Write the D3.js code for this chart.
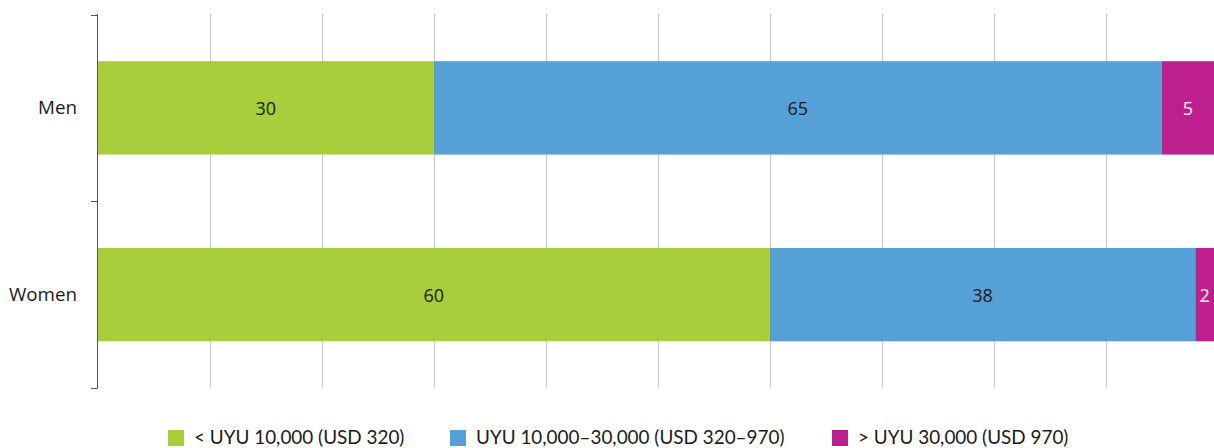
<!DOCTYPE html>
<html>
<head>
<meta charset="utf-8">
<script src="https://cdn.jsdelivr.net/npm/d3@7/dist/d3.min.js"></script>
<style>
  html, body { margin: 0; padding: 0; background: #fff; }
  svg { display: block; }
</style>
</head>
<body>
<script>
// Monthly income distribution by sex (%)
const categories = ["Men", "Women"];
const seriesNames = ["< UYU 10,000 (USD 320)", "UYU 10,000\u201330,000 (USD 320\u2013970)", "> UYU 30,000 (USD 970)"];
const lowIncome = [30, 60];
const midIncome = [65, 38];
const highIncome = [5, 2];
const xTicks = [10, 20, 30, 40, 50, 60, 70, 80, 90, 100];

const colors = ["#a8ce3b", "#55a0d6", "#bd208e"];
const labelColors = ["#1a1a1a", "#1a1a1a", "#ffffff"];

const W = 1214, H = 448;
const svg = d3.select("body").append("svg").attr("width", W).attr("height", H);

const x = d3.scaleLinear().domain([0, 100]).range([97.7, 1217.7]);
const y = d3.scaleBand().domain(categories).range([14.5, 388]).paddingInner(0.5).paddingOuter(0.25);

// gridlines
svg.append("g").selectAll("line").data(xTicks).join("line")
  .attr("x1", d => Math.round(x(d)) + 0.5).attr("x2", d => Math.round(x(d)) + 0.5)
  .attr("y1", 14).attr("y2", 388)
  .attr("stroke", "#c8c8c8").attr("stroke-width", 1);

// stacked rows
const rows = categories.map((c, i) => ({ cat: c, vals: [lowIncome[i], midIncome[i], highIncome[i]] }));
const stack = d3.stack().keys([0, 1, 2]).value((d, k) => d.vals[k]);
const layers = stack(rows);

const g = svg.append("g");
layers.forEach((layer, k) => {
  g.selectAll(null).data(layer).join("rect")
    .attr("x", d => x(d[0]))
    .attr("width", d => x(d[1]) - x(d[0]))
    .attr("y", d => y(d.data.cat))
    .attr("height", y.bandwidth())
    .attr("fill", colors[k]);
  g.selectAll(null).data(layer).join("text")
    .attr("x", d => (x(d[0]) + Math.min(x(d[1]), W)) / 2)
    .attr("y", d => y(d.data.cat) + y.bandwidth() / 2 + 1)
    .attr("dy", "0.35em")
    .attr("text-anchor", "middle")
    .attr("font-family", "'Open Sans', sans-serif")
    .attr("font-size", 18)
    .attr("fill", labelColors[k])
    .text(d => d[1] - d[0]);
});

// vertical category axis
const yAxisScale = d3.scalePoint().domain(["a", "b", "c"]).range([14.5, 388]);
svg.append("line")
  .attr("x1", 97.5).attr("x2", 97.5).attr("y1", 14).attr("y2", 388.5)
  .attr("stroke", "#555").attr("stroke-width", 1);
svg.append("g").selectAll("line").data(yAxisScale.domain()).join("line")
  .attr("x1", 91).attr("x2", 97.5)
  .attr("y1", d => Math.round(yAxisScale(d)) + 0.5).attr("y2", d => Math.round(yAxisScale(d)) + 0.5)
  .attr("stroke", "#555").attr("stroke-width", 1);

svg.append("g").selectAll("text").data(categories).join("text")
  .attr("x", 77)
  .attr("y", d => y(d) + y.bandwidth() / 2)
  .attr("dy", "0.35em")
  .attr("text-anchor", "end")
  .attr("font-family", "'Open Sans', sans-serif")
  .attr("font-size", 18.8)
  .attr("fill", "#1a1a1a")
  .text(d => d);

// legend
const legendX = [168, 450, 832];
const legend = svg.append("g").selectAll("g").data(seriesNames).join("g")
  .attr("transform", (d, i) => `translate(${legendX[i]},430)`);
legend.append("rect").attr("width", 16).attr("height", 16).attr("fill", (d, i) => colors[i]);
legend.append("text")
  .attr("x", 26).attr("y", 14)
  .attr("font-family", "'Lato', sans-serif")
  .attr("font-size", 18.9)
  .attr("fill", "#1a1a1a")
  .text(d => d);
</script>
</body>
</html>
